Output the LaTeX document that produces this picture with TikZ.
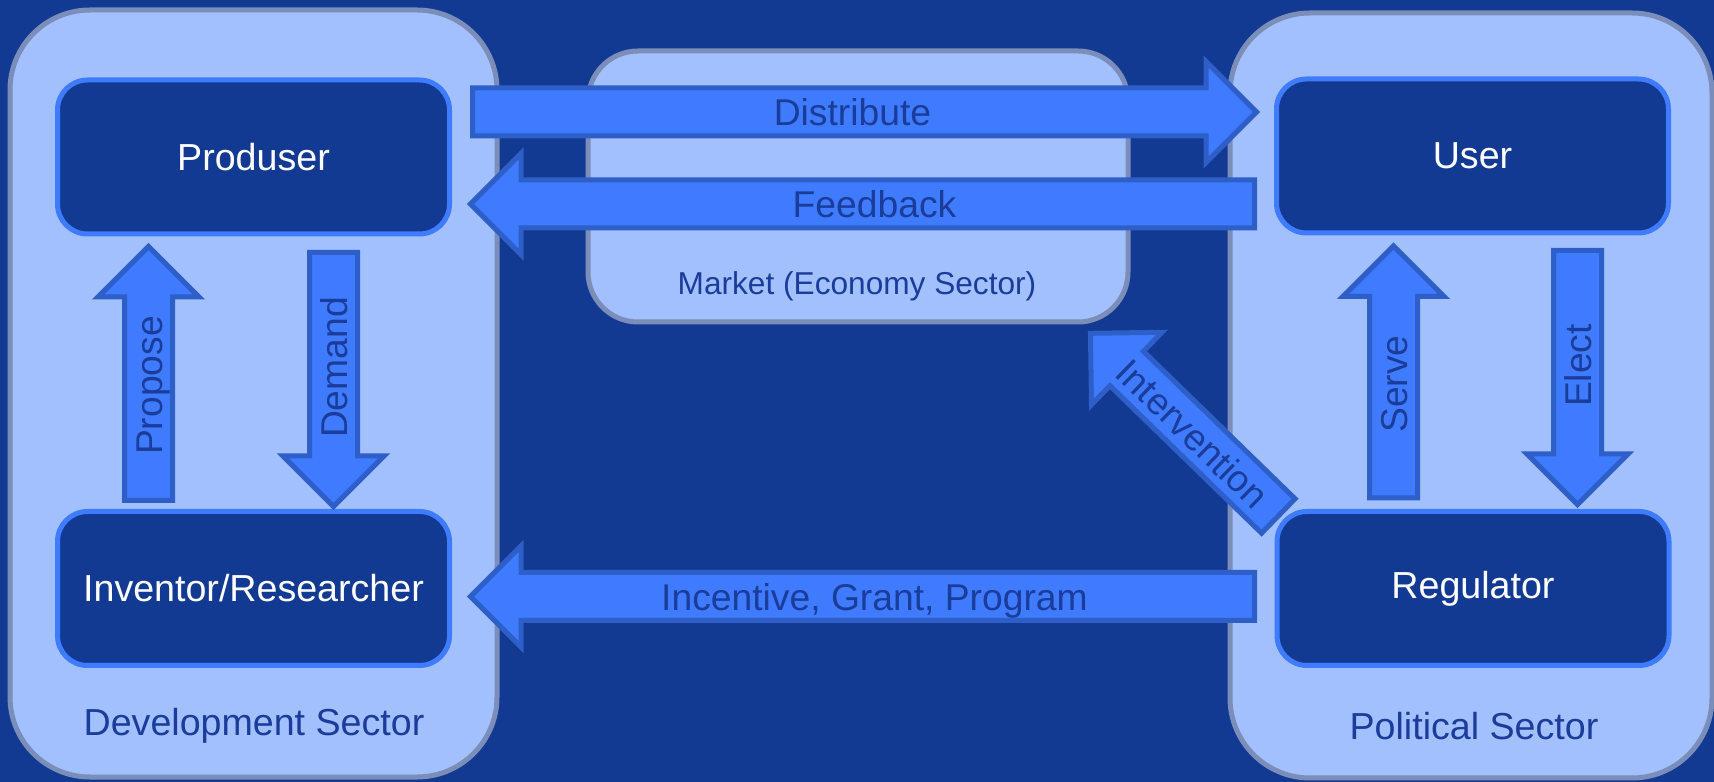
\documentclass[tikz,border=0pt]{standalone}
\usepackage{fontspec}
\setmainfont{Liberation Sans}
\usetikzlibrary{shapes.arrows,positioning}

\definecolor{bgblue}{HTML}{133A93}
\definecolor{sectorfill}{HTML}{A2C0FD}
\definecolor{sectorline}{HTML}{7B8DB9}
\definecolor{flowfill}{HTML}{3F7BFF}
\definecolor{flowline}{HTML}{2E5EC8}
\definecolor{labelblue}{HTML}{1A3C9A}

\tikzset{
  sector/.style={draw=sectorline,fill=sectorfill,line width=0.05cm,rounded corners=0.8cm},
  actor/.style={draw=flowfill,fill=bgblue,line width=0.05cm,rounded corners=0.3cm,
    minimum width=3.92cm,minimum height=1.54cm,text=white,font=\fontsize{10.7}{12.8}\selectfont},
  flow/.style={single arrow,draw=flowline,fill=flowfill,line width=0.05cm,
    minimum width=0.96cm,single arrow head extend=0.265cm,minimum height=#1,
    inner xsep=0pt,inner ysep=0.035cm,text height=0.32cm,text depth=0.04cm,
    text=labelblue,font=\fontsize{10.6}{12.7}\selectfont},
  sectorlabel/.style={text=labelblue,font=\fontsize{10.7}{12.8}\selectfont}
}

\begin{document}
\begin{tikzpicture}
  \useasboundingbox[fill=bgblue] (0,0) rectangle (17.14,7.82);
  % sectors
  \node[sector,minimum width=4.87cm,minimum height=7.67cm] (devsec) at (2.535,3.885) {};
  \node[sector,minimum width=4.82cm,minimum height=7.65cm] (polsec) at (14.71,3.865) {};
  \node[sector,rounded corners=0.5cm,minimum width=5.40cm,minimum height=2.71cm] (market) at (8.58,5.955) {};
  \node[sectorlabel] (devlabel) at (2.54,0.56) {Development Sector};
  \node[sectorlabel] (pollabel) at (14.74,0.56) {Political Sector};
  \node[sectorlabel,font=\fontsize{9}{10.8}\selectfont] (marketlabel) at (8.57,4.96) {Market (Economy Sector)};
  % actors
  \node[actor] (prod) at (2.535,6.25) {Produser};
  \node[actor] (inv) at (2.535,1.935) {Inventor/Researcher};
  \node[actor] (user) at (14.725,6.26) {User};
  \node[actor] (reg) at (14.73,1.935) {Regulator};
  % flows
  \node[flow=7.84cm] (distribute) at (8.525,6.70) {Distribute};
  \node[flow=7.84cm,shape border rotate=180] (feedback) at (8.745,5.78) {Feedback};
  \node[flow=7.84cm,shape border rotate=180] (incentive) at (8.745,1.855) {Incentive, Grant, Program};
  \node[flow=2.54cm,rotate=90] (propose) at (1.485,3.965) {Propose};
  \node[flow=2.54cm,rotate=90,shape border rotate=180] (demand) at (3.335,4.145) {Demand};
  \node[flow=2.52cm,rotate=90] (serve) at (13.935,3.98) {Serve};
  \node[flow=2.54cm,rotate=90,shape border rotate=180] (elect) at (15.775,4.165) {Elect};
  \node[flow=2.62cm,rotate=-44.2,shape border rotate=180] (intervention) at (11.93,3.49) {Intervention};
\end{tikzpicture}
\end{document}
